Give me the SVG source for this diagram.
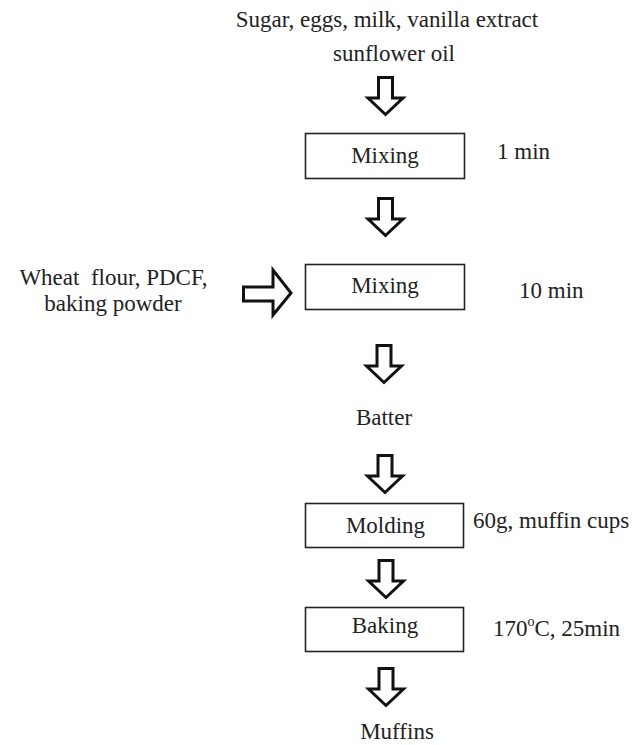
<svg xmlns="http://www.w3.org/2000/svg" width="644" height="745" viewBox="0 0 644 745">
<style>
text{font-family:"Liberation Serif","Times New Roman",serif;font-size:23px;fill:#222}
.c{text-anchor:middle}
.box{fill:#fff;stroke:#222;stroke-width:1.6}
.arr{fill:#fff;stroke:#111;stroke-width:3;stroke-linejoin:miter}
</style>
<defs>
<path id="down" d="M -7,1.5 L 7,1.5 L 7,22 L 17.5,22 L 0,38.5 L -17.5,22 L -7,22 Z"/>
</defs>
<rect width="644" height="745" fill="#fff"/>
<g id="connectors">
<use href="#down" class="arr" transform="translate(385.5,76)"/>
<use href="#down" class="arr" transform="translate(385.5,197)"/>
<use href="#down" class="arr" transform="translate(384,344)"/>
<use href="#down" class="arr" transform="translate(385,454)"/>
<use href="#down" class="arr" transform="translate(386,559)"/>
<use href="#down" class="arr" transform="translate(386,667)"/>
<path class="arr" d="M 243.5,287 L 273,287 L 273,270 L 291,293 L 273,315 L 273,301 L 243.5,301 Z"/>
</g>
<g id="inputs1">
<text class="c" x="387" y="27">Sugar, eggs, milk, vanilla extract</text>
<text class="c" x="394" y="61">sunflower oil</text>
</g>
<g id="mixing1">
<rect class="box" x="305.5" y="133.5" width="159" height="45"/>
<text class="c" x="385" y="163">Mixing</text>
<text x="497" y="159">1 min</text>
</g>
<g id="inputs2">
<text class="c" x="113.5" y="285" xml:space="preserve">Wheat  flour, PDCF,</text>
<text class="c" x="113" y="311">baking powder</text>
</g>
<g id="mixing2">
<rect class="box" x="305.5" y="264.5" width="159" height="45"/>
<text class="c" x="385" y="293">Mixing</text>
<text x="519" y="298">10 min</text>
</g>
<g id="batter">
<text class="c" x="384" y="425">Batter</text>
</g>
<g id="molding">
<rect class="box" x="305.5" y="503.5" width="158" height="44"/>
<text class="c" x="385.5" y="533">Molding</text>
<text x="473" y="528">60g, muffin cups</text>
</g>
<g id="baking">
<rect class="box" x="305.5" y="607.5" width="158" height="44"/>
<text class="c" x="385" y="633">Baking</text>
<text x="493" y="636">170<tspan font-size="14" dy="-10">o</tspan><tspan dy="10">C, 25min</tspan></text>
</g>
<g id="muffins">
<text class="c" x="397" y="739">Muffins</text>
</g>
</svg>
